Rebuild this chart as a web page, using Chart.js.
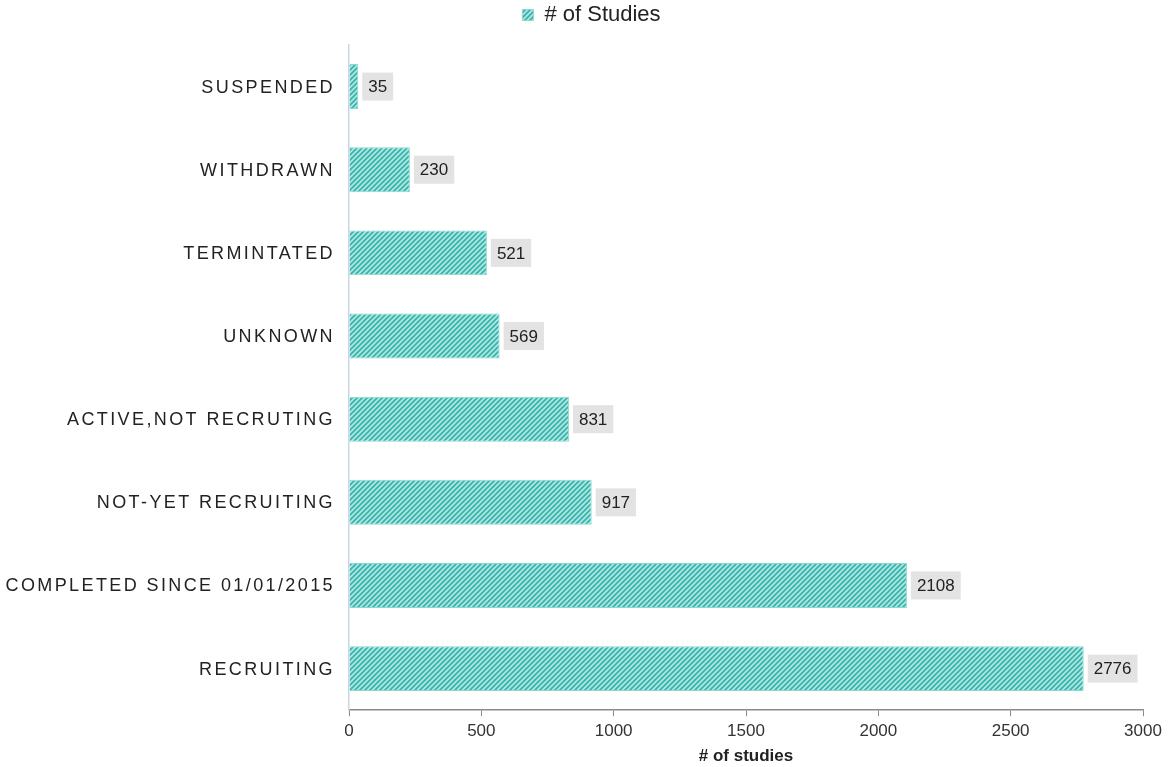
<!DOCTYPE html>
<html>
<head>
<meta charset="utf-8">
<script src="https://cdn.jsdelivr.net/npm/chart.js@4.4.1/dist/chart.umd.min.js"></script>
<style>
  html, body { margin: 0; padding: 0; background: #ffffff; }
  #wrap { width: 1170px; height: 767px; }
</style>
</head>
<body>
<div id="wrap"><canvas id="chart" width="1170" height="767"></canvas></div>
<script>
const categories = [
  'SUSPENDED',
  'WITHDRAWN',
  'TERMINTATED',
  'UNKNOWN',
  'ACTIVE,NOT RECRUTING',
  'NOT-YET RECRUITING',
  'COMPLETED SINCE 01/01/2015',
  'RECRUITING'
];
const studies = [35, 230, 521, 569, 831, 917, 2108, 2776];
const xTicks = [0, 500, 1000, 1500, 2000, 2500, 3000];

const FONT = '"Liberation Sans", Arial, Helvetica, sans-serif';

// diagonal hatch fill for the bars
function makeHatch() {
  const size = 5;
  const c = document.createElement('canvas');
  c.width = size; c.height = size;
  const g = c.getContext('2d');
  g.fillStyle = '#b0e5e0';
  g.fillRect(0, 0, size, size);
  g.strokeStyle = '#34b5ac';
  g.lineWidth = 1.7;
  g.beginPath();
  for (let k = -1; k <= 1; k++) {
    g.moveTo(k * size - 1, size + 1);
    g.lineTo(k * size + size + 1, -1);
  }
  g.stroke();
  return g.createPattern(c, 'repeat');
}
const hatch = makeHatch();

// extra room under the legend, and the legend sits a little right of centre
const legendTweak = {
  id: 'legendTweak',
  beforeInit(chart) {
    const legend = chart.legend;
    const fit = legend.fit;
    legend.fit = function () {
      fit.call(this);
      this.height += 9;
    };
    const draw = legend.draw;
    legend.draw = function () {
      const ctx = this.ctx;
      ctx.save();
      ctx.translate(20, 0);
      draw.call(this);
      ctx.restore();
    };
  }
};

// category labels with wide letter spacing, right-aligned against the axis
const categoryLabels = {
  id: 'categoryLabels',
  afterDraw(chart) {
    const { ctx, scales: { y } } = chart;
    ctx.save();
    ctx.font = '18px ' + FONT;
    ctx.fillStyle = '#222222';
    ctx.textAlign = 'right';
    ctx.textBaseline = 'middle';
    ctx.letterSpacing = '2.4px';
    categories.forEach((label, i) => {
      ctx.fillText(label, y.right - 14, y.getPixelForValue(i) + 1);
    });
    ctx.restore();
  }
};

// value boxes after each bar end
const valueLabels = {
  id: 'valueLabels',
  afterDatasetsDraw(chart) {
    const { ctx } = chart;
    const meta = chart.getDatasetMeta(0);
    ctx.save();
    ctx.font = '17px ' + FONT;
    ctx.textBaseline = 'middle';
    ctx.textAlign = 'left';
    meta.data.forEach((bar, i) => {
      const text = String(studies[i]);
      const w = ctx.measureText(text).width;
      const bx = bar.x + 4;
      const by = bar.y - 14;
      ctx.fillStyle = '#e3e3e3';
      ctx.fillRect(bx, by, w + 12, 28);
      ctx.fillStyle = '#222222';
      ctx.fillText(text, bx + 6, bar.y + 1);
    });
    ctx.restore();
  }
};

new Chart(document.getElementById('chart'), {
  type: 'bar',
  data: {
    labels: categories,
    datasets: [{
      label: '# of Studies',
      data: studies,
      backgroundColor: hatch,
      borderColor: '#8ad8d1',
      borderWidth: 1,
      categoryPercentage: 0.54,
      barPercentage: 1.0
    }]
  },
  options: {
    indexAxis: 'y',
    responsive: false,
    animation: false,
    devicePixelRatio: 1,
    layout: { padding: { top: 0, right: 27, bottom: 0, left: 0 } },
    plugins: {
      legend: {
        display: true,
        position: 'top',
        labels: {
          font: { family: FONT, size: 22 },
          color: '#222222',
          boxWidth: 11,
          boxHeight: 11,
          padding: 4
        }
      },
      tooltip: { enabled: false }
    },
    scales: {
      x: {
        type: 'linear',
        min: 0,
        max: 3000,
        afterBuildTicks(scale) {
          scale.ticks = xTicks.map(v => ({ value: v }));
        },
        grid: {
          display: true,
          drawOnChartArea: false,
          drawTicks: true,
          tickLength: 6,
          color: '#8a8a8a'
        },
        border: { display: true, color: '#8a8a8a', width: 1.5 },
        ticks: {
          font: { family: FONT, size: 17 },
          color: '#333333',
          padding: 5,
          maxRotation: 0,
          callback: v => String(v)
        },
        title: {
          display: true,
          text: '# of studies',
          font: { family: FONT, size: 17, weight: 'bold' },
          color: '#222222',
          padding: { top: 0, bottom: 0 }
        }
      },
      y: {
        grid: { display: false, drawTicks: false },
        border: { display: true, color: '#c8d6e8', width: 1.5 },
        ticks: { display: false },
        afterFit(scale) { scale.width = 349; }
      }
    }
  },
  plugins: [legendTweak, categoryLabels, valueLabels]
});
</script>
</body>
</html>
